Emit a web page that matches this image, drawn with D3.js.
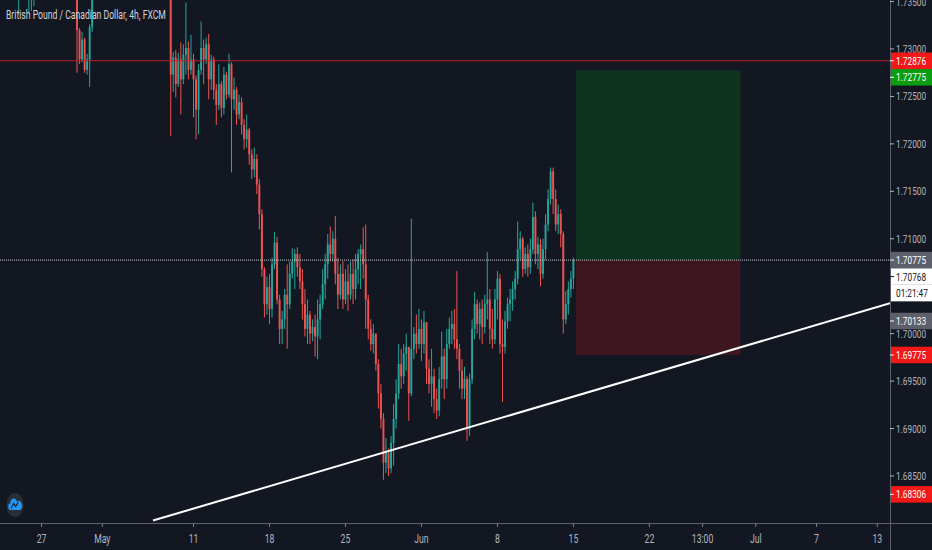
<!DOCTYPE html>
<html>
<head>
<meta charset="utf-8">
<script src="https://cdn.jsdelivr.net/npm/d3@7"></script>
<style>
html, body { margin: 0; padding: 0; background: #131722; overflow: hidden; }
</style>
</head>
<body>
<script>
var W = 932, H = 550;
var PLOT_W = 890, PLOT_H = 523;
var SX = 0.72;          // the screenshot is squeezed sideways, so is the text
var LABEL_H = 16.5;

var COLOR_UP = '#26a69a';
var COLOR_DOWN = '#ef5350';

// 4h candles, bar index 0 = Mon 27 Apr 00:00 (weekends skipped)
var FIRST_BAR = -16;
var firstOpen = 1.7375;
var closes = [
  1.7380,1.7392,1.7385,1.7375,1.7368,1.7372,1.7362,1.7366,1.7378,1.7370,1.7362,1.7368,1.7375,1.7388,1.7395,1.7402,
  1.7410,1.7420,1.7412,1.7425,1.7418,1.7405,1.7398,1.7408,1.7395,1.7388,1.7392,1.7380,1.7372,1.7365,
  1.7320,1.7289,1.7310,1.7278,1.7289,1.7323,1.7356,
  1.7372,1.7385,1.7378,1.7392,1.7405,1.7398,1.7410,1.7422,1.7415,1.7430,
  1.7425,1.7418,1.7432,1.7440,1.7428,1.7420,1.7412,1.7425,1.7418,1.7405,
  1.7398,1.7410,1.7402,1.7395,1.7408,1.7415,1.7405,1.7398,1.7390,1.7400,
  1.7273,1.7291,1.7263,1.7289,1.7268,1.7294,1.7301,1.7278,1.7289,1.7268,
  1.7236,1.7278,1.7301,1.7289,1.7305,1.7268,1.7289,1.7257,1.7241,1.7263,
  1.7238,1.7273,1.7252,1.7284,1.7247,1.7257,1.7231,1.7244,1.7220,1.7205,
  1.7215,1.7189,1.7173,1.7184,1.7157,1.7126,1.7068,1.7031,1.7049,1.7026,
  1.7073,1.7096,1.7036,1.7005,1.7015,1.7041,1.7031,1.7063,1.7076,1.7084,
  1.7070,1.7055,1.7031,1.7005,1.7020,1.7000,1.7007,1.6997,1.7015,1.7031,
  1.7052,1.7073,1.7094,1.7084,1.7100,1.7063,1.7041,1.7063,1.7036,1.7055,
  1.7041,1.7063,1.7047,1.7068,1.7084,1.7089,1.7073,1.7036,1.7005,1.6989,
  1.7000,1.6968,1.6937,1.6910,1.6864,1.6874,1.6858,1.6885,1.6910,1.6937,
  1.6968,1.6955,1.6979,1.6986,1.6937,1.6984,1.7000,1.6989,1.7005,1.6989,
  1.7012,1.6963,1.6947,1.6955,1.6931,1.6919,1.6952,1.6976,1.6952,1.6989,
  1.7005,1.7010,1.6994,1.6984,1.6961,1.6942,1.6952,1.6900,1.6952,1.7005,
  1.7031,1.7010,1.7026,1.7007,1.7031,1.7036,1.7005,1.6994,1.7036,1.7058,
  1.6989,1.6986,1.7013,1.7031,1.7036,1.7047,1.7058,1.7089,1.7100,1.7068,
  1.7084,1.7070,1.7089,1.7123,1.7084,1.7094,1.7063,1.7089,1.7115,1.7142,
  1.7171,1.7142,1.7115,1.7126,1.7105,1.7015,1.7031,1.7047,1.7058,1.70768
];
var highs = [
  1.7388,1.7398,1.7396,1.7388,1.7378,1.7377,1.7374,1.7370,1.7383,1.7380,1.7372,1.7371,1.7380,1.7392,1.7400,1.7410,
  1.7418,1.7428,1.7425,1.7432,1.7430,1.7420,1.7410,1.7415,1.7410,1.7400,1.7398,1.7395,1.7385,1.7378,
  1.7368,1.7322,1.7318,1.7312,1.7295,1.7326,1.7365,
  1.7378,1.7391,1.7392,1.7399,1.7411,1.7412,1.7416,1.7429,1.7428,1.7436,
  1.7438,1.7431,1.7439,1.7447,1.7446,1.7433,1.7426,1.7431,1.7430,1.7423,
  1.7410,1.7416,1.7415,1.7408,1.7414,1.7421,1.7420,1.7410,1.7403,1.7406,
  1.7405,1.7297,1.7299,1.7296,1.7307,1.7305,1.7349,1.7308,1.7315,1.7295,
  1.7272,1.7284,1.7329,1.7310,1.7312,1.7316,1.7294,1.7292,1.7263,1.7284,
  1.7266,1.7281,1.7276,1.7295,1.7286,1.7270,1.7260,1.7252,1.7249,1.7226,
  1.7231,1.7217,1.7194,1.7196,1.7189,1.7163,1.7131,1.7070,1.7060,1.7063,
  1.7080,1.7107,1.7102,1.7041,1.7024,1.7047,1.7073,1.7076,1.7090,1.7089,
  1.7091,1.7084,1.7068,1.7047,1.7036,1.7024,1.7015,1.7020,1.7036,1.7041,
  1.7068,1.7084,1.7105,1.7113,1.7108,1.7124,1.7080,1.7073,1.7076,1.7068,
  1.7073,1.7076,1.7078,1.7084,1.7089,1.7094,1.7112,1.7115,1.7041,1.7015,
  1.7010,1.7000,1.6973,1.6947,1.6916,1.6890,1.6879,1.6892,1.6926,1.6952,
  1.6989,1.6984,1.6989,1.7000,1.6986,1.7121,1.7007,1.7020,1.7026,1.7015,
  1.7024,1.7012,1.6973,1.6984,1.6963,1.6942,1.6965,1.7002,1.6984,1.7005,
  1.7017,1.7024,1.7026,1.7066,1.6989,1.6973,1.6965,1.6955,1.6958,1.7015,
  1.7044,1.7036,1.7033,1.7036,1.7041,1.7086,1.7047,1.7026,1.7047,1.7066,
  1.7063,1.7015,1.7024,1.7038,1.7047,1.7055,1.7066,1.7118,1.7108,1.7102,
  1.7091,1.7094,1.7100,1.7138,1.7129,1.7102,1.7100,1.7100,1.7126,1.7152,
  1.7175,1.7175,1.7152,1.7136,1.7131,1.7108,1.7045,1.7055,1.7066,1.7080
];
var lows = [
  1.7372,1.7378,1.7379,1.7370,1.7362,1.7363,1.7358,1.7336,1.7362,1.7365,1.7357,1.7339,1.7340,1.7345,1.7384,1.7390,
  1.7398,1.7405,1.7404,1.7408,1.7410,1.7398,1.7390,1.7392,1.7388,1.7378,1.7380,1.7372,1.7366,1.7358,
  1.7275,1.7284,1.7286,1.7275,1.7273,1.7260,1.7318,
  1.7354,1.7366,1.7371,1.7373,1.7386,1.7391,1.7392,1.7404,1.7409,1.7410,
  1.7419,1.7411,1.7412,1.7426,1.7421,1.7413,1.7405,1.7406,1.7411,1.7399,
  1.7391,1.7392,1.7395,1.7388,1.7389,1.7402,1.7398,1.7391,1.7383,1.7384,
  1.7208,1.7255,1.7249,1.7260,1.7231,1.7263,1.7273,1.7268,1.7273,1.7228,
  1.7205,1.7210,1.7273,1.7263,1.7284,1.7247,1.7257,1.7247,1.7220,1.7236,
  1.7228,1.7231,1.7247,1.7249,1.7170,1.7236,1.7220,1.7226,1.7210,1.7194,
  1.7196,1.7178,1.7163,1.7165,1.7147,1.7110,1.7060,1.7017,1.7020,1.7010,
  1.7017,1.7068,1.7031,1.6989,1.6989,1.7005,1.6984,1.7026,1.7058,1.7047,
  1.7060,1.7047,1.7015,1.6997,1.6989,1.6989,1.6992,1.6976,1.6973,1.6994,
  1.7026,1.7036,1.7058,1.7076,1.7076,1.7052,1.7026,1.7036,1.7026,1.7031,
  1.7024,1.7036,1.7031,1.7036,1.7052,1.7047,1.7058,1.7005,1.6994,1.6982,
  1.6979,1.6961,1.6921,1.6900,1.6846,1.6853,1.6850,1.6853,1.6861,1.6900,
  1.6931,1.6942,1.6947,1.6961,1.6908,1.6934,1.6973,1.6979,1.6984,1.6971,
  1.6979,1.6947,1.6937,1.6923,1.6916,1.6910,1.6913,1.6942,1.6931,1.6942,
  1.6984,1.6989,1.6984,1.6973,1.6942,1.6931,1.6931,1.6887,1.6892,1.6947,
  1.6994,1.7000,1.6994,1.6989,1.7000,1.7015,1.6989,1.6984,1.6989,1.7015,
  1.6979,1.6928,1.6979,1.7005,1.7013,1.7024,1.7036,1.7052,1.7078,1.7060,
  1.7063,1.7060,1.7063,1.7084,1.7073,1.7068,1.7050,1.7058,1.7078,1.7108,
  1.7136,1.7126,1.7108,1.7105,1.7091,1.7000,1.7010,1.7020,1.7038,1.7047
];

var timeTickBars = [0, 24, 60, 90, 120, 150, 180, 210, 240, 261, 282, 306, 330];
var timeTickText = ['27', 'May', '11', '18', '25', 'Jun', '8', '15', '22', '13:00', 'Jul', '7', '13'];
var priceTicks = [1.735, 1.730, 1.725, 1.720, 1.715, 1.710, 1.705, 1.700, 1.695, 1.690, 1.685];

var resistance = 1.72876;
var lastClose = 1.70775;
var trendBars = [44, 335];
var trendPrices = [1.6803, 1.7032];
var posBars = [211, 276];
var posTarget = 1.72775, posEntry = 1.70775, posStop = 1.69775;

var markPrices = [1.72876, 1.72775, 1.70775, 1.70768, 1.70133, 1.69775, 1.68306];
var markKinds  = ['red', 'green', 'gray', 'white', 'gray', 'red', 'red'];
var countdown = '01:21:47';
var title = 'British Pound / Canadian Dollar, 4h, FXCM';

var MARK_STYLE = {
    red:   { bg: '#f21818', fg: '#ffffff' },
    green: { bg: '#0c9c12', fg: '#ffffff' },
    gray:  { bg: '#5d606b', fg: '#ffffff' },
    white: { bg: '#ffffff', fg: '#131722' }
};

var xs = d3.scaleLinear().domain([-16.4, 335]).range([0, PLOT_W]);
var ys = d3.scaleLinear().domain([1.69, 1.73]).range([428.5, 49]);

function txt(g, x, y, s, size, fill, anchor) {
    return g.append('text')
        .attr('transform', 'translate(' + x + ',' + y + ') scale(' + SX + ',1)')
        .attr('text-anchor', anchor || 'start')
        .attr('dominant-baseline', 'central')
        .style('font-family', 'Roboto, "Noto Sans", sans-serif')
        .style('font-size', size + 'px')
        .attr('fill', fill)
        .text(s);
}

var svg = d3.select('body').append('svg')
    .attr('width', W).attr('height', H)
    .style('display', 'block');

svg.append('rect').attr('width', W).attr('height', H).attr('fill', '#131722');

svg.append('defs').append('clipPath').attr('id', 'plot')
    .append('rect').attr('width', PLOT_W).attr('height', PLOT_H);

var plot = svg.append('g').attr('clip-path', 'url(#plot)');

// long position box
plot.append('rect')
    .attr('x', xs(posBars[0])).attr('width', xs(posBars[1]) - xs(posBars[0]))
    .attr('y', ys(posTarget)).attr('height', ys(posEntry) - ys(posTarget))
    .attr('fill', '#10331f');
plot.append('rect')
    .attr('x', xs(posBars[0])).attr('width', xs(posBars[1]) - xs(posBars[0]))
    .attr('y', ys(posEntry)).attr('height', ys(posStop) - ys(posEntry))
    .attr('fill', '#3d1620');

// candles
var n = Math.min(closes.length, highs.length, lows.length);
var candles = [];
for (var i = 0; i < n; i++) {
    var o = i == 0 ? firstOpen : closes[i - 1];
    candles.push({ bar: FIRST_BAR + i, o: o, c: closes[i],
                   h: Math.max(highs[i], o, closes[i]), l: Math.min(lows[i], o, closes[i]) });
}

var cg = plot.selectAll('g.candle').data(candles).enter().append('g').attr('class', 'candle');
cg.append('line')
    .attr('x1', function (d) { return xs(d.bar); })
    .attr('x2', function (d) { return xs(d.bar); })
    .attr('y1', function (d) { return ys(d.h); })
    .attr('y2', function (d) { return ys(d.l); })
    .attr('stroke', function (d) { return d.c >= d.o ? COLOR_UP : COLOR_DOWN; })
    .attr('stroke-width', 1);
cg.append('rect')
    .attr('x', function (d) { return xs(d.bar) - 0.95; })
    .attr('width', 1.9)
    .attr('y', function (d) { return ys(Math.max(d.o, d.c)); })
    .attr('height', function (d) { return Math.max(1, Math.abs(ys(d.o) - ys(d.c))); })
    .attr('fill', function (d) { return d.c >= d.o ? COLOR_UP : COLOR_DOWN; });

// horizontal levels
plot.append('line')
    .attr('x1', 0).attr('x2', PLOT_W)
    .attr('y1', ys(resistance)).attr('y2', ys(resistance))
    .attr('stroke', '#b8202b').attr('stroke-width', 1);
plot.append('line')
    .attr('x1', 0).attr('x2', PLOT_W)
    .attr('y1', ys(lastClose)).attr('y2', ys(lastClose))
    .attr('stroke', '#c9cbd1').attr('stroke-width', 1)
    .attr('stroke-dasharray', '1,1');

// trend line
plot.append('line')
    .attr('x1', xs(trendBars[0])).attr('y1', ys(trendPrices[0]))
    .attr('x2', xs(trendBars[1])).attr('y2', ys(trendPrices[1]))
    .attr('stroke', '#ffffff').attr('stroke-width', 2);

// title
txt(svg, 6, 15, title, 12, '#d1d4dc');

// tradingview logo
var logo = svg.append('g').attr('transform', 'translate(15,505) scale(' + SX + ',1)');
logo.append('circle').attr('r', 12).attr('fill', '#2a2e39');
logo.append('path')
    .attr('d', 'M-7,5 a3.6,3.6 0 0 1 0.6,-7 a4.8,4.8 0 0 1 9.2,-1.6 a4.2,4.2 0 0 1 4.4,8.6 z')
    .attr('fill', '#2196f3');
logo.append('path')
    .attr('d', 'M-5.5,3.5 L-2,-1.5 L1,1.5 L4.5,-3')
    .attr('fill', 'none').attr('stroke', '#131722').attr('stroke-width', 1.3);

// axes lines
svg.append('line').attr('x1', 0).attr('x2', W).attr('y1', PLOT_H + 0.5).attr('y2', PLOT_H + 0.5)
    .attr('stroke', '#5d606b');
svg.append('line').attr('x1', PLOT_W + 0.5).attr('x2', PLOT_W + 0.5).attr('y1', 0).attr('y2', H)
    .attr('stroke', '#5d606b');

// time axis
timeTickBars.forEach(function (b, k) {
    var x = xs(b);
    svg.append('line').attr('x1', x).attr('x2', x).attr('y1', PLOT_H).attr('y2', PLOT_H + 4)
        .attr('stroke', '#787b86');
    txt(svg, x, 539, timeTickText[k], 12, '#b2b5be', 'middle');
});

// price marks on the axis, pushed down when they overlap
var marks = markPrices.map(function (p, k) { return { p: p, kind: markKinds[k] }; })
    .sort(function (a, b) { return b.p - a.p; });
var boxes = [];
var bottom = -Infinity;
marks.forEach(function (m) {
    var cy = Math.max(ys(m.p), bottom + LABEL_H / 2);
    boxes.push({ cy: cy, text: m.p.toFixed(5), kind: m.kind, dash: true });
    bottom = cy + LABEL_H / 2;
    if (m.kind == 'white') {
        cy = bottom + LABEL_H / 2;
        boxes.push({ cy: cy, text: countdown, kind: 'white', dash: false });
        bottom = cy + LABEL_H / 2;
    }
});

// price ticks, hidden behind marks
priceTicks.forEach(function (p) {
    var y = ys(p);
    var hidden = boxes.some(function (b) { return Math.abs(b.cy - y) < 10; });
    if (hidden) return;
    svg.append('line').attr('x1', PLOT_W).attr('x2', PLOT_W + 4).attr('y1', y).attr('y2', y)
        .attr('stroke', '#b2b5be');
    txt(svg, 896, y, p.toFixed(5), 11.5, '#b2b5be');
});

boxes.forEach(function (b) {
    var st = MARK_STYLE[b.kind];
    svg.append('rect').attr('x', PLOT_W + 1).attr('width', W - PLOT_W - 1)
        .attr('y', b.cy - LABEL_H / 2).attr('height', LABEL_H)
        .attr('fill', st.bg);
    if (b.dash) {
        svg.append('line').attr('x1', PLOT_W).attr('x2', PLOT_W + 4).attr('y1', b.cy).attr('y2', b.cy)
            .attr('stroke', st.fg);
    }
    txt(svg, 896, b.cy, b.text, 11.5, st.fg);
});
</script>
</body>
</html>
